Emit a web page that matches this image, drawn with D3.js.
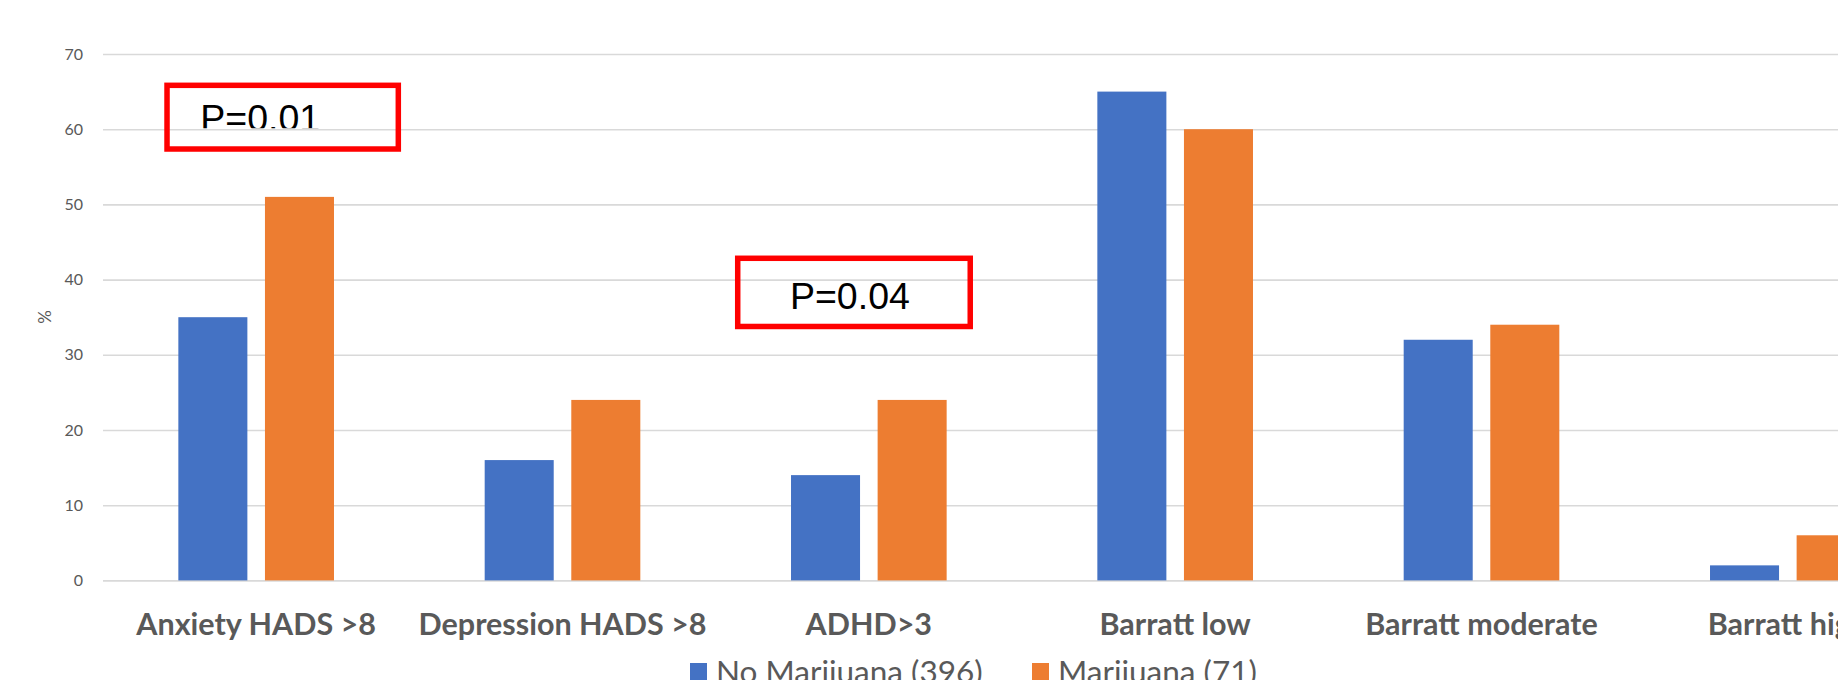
<!DOCTYPE html>
<html>
<head>
<meta charset="utf-8">
<script src="https://cdn.jsdelivr.net/npm/d3@7"></script>
<style>
  body { margin: 0; background: #fff; overflow: hidden; }
  text { font-family: Lato, "Open Sans", sans-serif; }
</style>
</head>
<body>
<div id="chart"></div>
<script>
// data
var categories = ["Anxiety HADS >8", "Depression HADS >8", "ADHD>3", "Barratt low", "Barratt moderate", "Barratt high"]
var seriesNames = ["No Marijuana (396)", "Marijuana (71)"]
var noMarijuana = [35, 16, 14, 65, 32, 2]
var marijuana = [51, 24, 24, 60, 34, 6]
var yTicks = [0, 10, 20, 30, 40, 50, 60, 70]
var colors = ["#4472C4", "#ED7D31"]

// p-value callouts: category index it sits over, left/right as fraction of band, top/bottom in %
var pLabels = ["P=0.01", "P=0.04"]
var pCats = [0, 2]
var pBoxX = [[0.2, 0.973], [0.063, 0.84]]
var pBoxY = [[66.2, 57.0], [43.2, 33.4]]

var W = 1838, H = 680
var margin = {top: 54, left: 103, bottom: 99}

var svg = d3.select("#chart").append("svg")
  .attr("width", W)
  .attr("height", H)

// plot runs past the right edge of the window, like the reference crop
var x0 = d3.scaleBand()
  .domain(categories)
  .range([margin.left, 1941])
  .padding(0)

var x1 = d3.scaleBand()
  .domain(seriesNames)
  .range([0, x0.bandwidth()])
  .paddingInner(0.203)
  .paddingOuter(0.87)

var y = d3.scaleLinear()
  .domain([0, 70])
  .range([H - margin.bottom - 0.6, margin.top])

// gridlines + tick labels
var yAxis = svg.append("g")
  .attr("transform", "translate(" + margin.left + ",0)")
  .call(d3.axisLeft(y).tickValues(yTicks).tickSize(-(1941 - margin.left)).tickPadding(20))
yAxis.select(".domain").remove()
yAxis.selectAll(".tick line")
  .attr("stroke", "#d9d9d9")
  .attr("stroke-width", 1.6)
yAxis.selectAll(".tick text")
  .attr("fill", "#595959")
  .style("font-size", "16px")

// y title
svg.append("text")
  .attr("transform", "translate(" + 45 + "," + 317 + ") rotate(-90)")
  .attr("text-anchor", "middle")
  .attr("dy", "0.35em")
  .attr("fill", "#595959")
  .style("font-size", "17px")
  .text("%")

// bars
var rows = categories.map(function(c, i) {
  return {cat: c, values: [noMarijuana[i], marijuana[i]]}
})

var groups = svg.selectAll(".grp")
  .data(rows)
  .enter()
  .append("g")
  .attr("class", "grp")
  .attr("transform", function(d) { return "translate(" + x0(d.cat) + ",0)" })

groups.selectAll("rect")
  .data(function(d) { return d.values.map(function(v, j) { return {s: seriesNames[j], v: v, j: j} }) })
  .enter()
  .append("rect")
  .attr("x", function(d) { return x1(d.s) })
  .attr("y", function(d) { return y(d.v) })
  .attr("width", x1.bandwidth())
  .attr("height", function(d) { return y(0) - y(d.v) })
  .attr("fill", function(d) { return colors[d.j] })

// category labels
svg.append("g").selectAll("text")
  .data(categories)
  .enter()
  .append("text")
  .attr("x", function(d) { return x0(d) + x0.bandwidth() / 2 })
  .attr("y", 635)
  .attr("text-anchor", "middle")
  .attr("fill", "#595959")
  .style("font-size", "30.5px")
  .style("font-weight", "bold")
  .text(function(d) { return d })

// legend
var legendX = [690, 1032]
var legend = svg.append("g").selectAll("g")
  .data(seriesNames)
  .enter()
  .append("g")
  .attr("transform", function(d, i) { return "translate(" + legendX[i] + ",663)" })
legend.append("rect")
  .attr("width", 17)
  .attr("height", 18)
  .attr("fill", function(d, i) { return colors[i] })
legend.append("text")
  .attr("x", 26)
  .attr("y", 20)
  .attr("fill", "#595959")
  .style("font-size", "31.5px")
  .text(function(d) { return d })

// p-value boxes
var defs = svg.append("defs")
pLabels.forEach(function(lab, i) {
  var bx = x0(categories[pCats[i]])
  var left = bx + pBoxX[i][0] * x0.bandwidth()
  var right = bx + pBoxX[i][1] * x0.bandwidth()
  var top = y(pBoxY[i][0]), bottom = y(pBoxY[i][1])
  svg.append("rect")
    .attr("x", left + 2.75)
    .attr("y", top + 2.75)
    .attr("width", right - left - 5.5)
    .attr("height", bottom - top - 5.5)
    .attr("fill", "none")
    .attr("stroke", "#ff0000")
    .attr("stroke-width", 5.5)
  var t = svg.append("text")
    .style("font-family", "'Liberation Sans', Arial, sans-serif")
    .style("font-size", "37.5px")
    .attr("fill", "#000")
    .text(lab)
  if (i == 0) {
    // first label's text frame is cut short in the original
    defs.append("clipPath").attr("id", "pclip")
      .append("rect").attr("x", left).attr("y", top).attr("width", right - left).attr("height", y(60) - 1 - top)
    t.attr("x", left + 36).attr("y", top + 48).attr("clip-path", "url(#pclip)")
  } else {
    t.attr("x", left + 55).attr("y", top + 53)
  }
})
</script>
</body>
</html>
